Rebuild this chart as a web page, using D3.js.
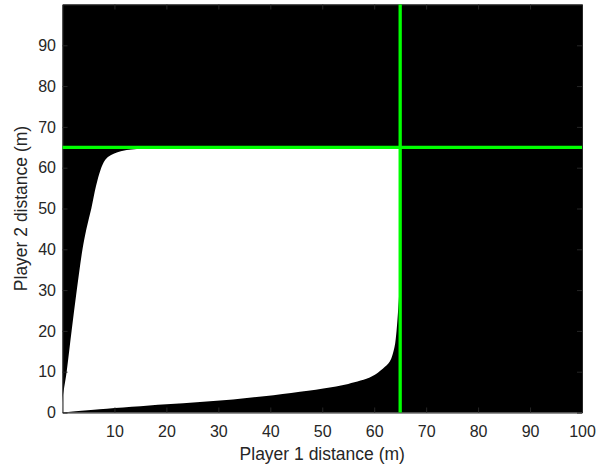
<!DOCTYPE html>
<html>
<head>
<meta charset="utf-8">
<script src="https://cdn.jsdelivr.net/npm/d3@7"></script>
<style>
  html, body { margin: 0; padding: 0; background: #fff; }
  svg { display: block; }
  text { font-family: "Liberation Sans", Arial, Helvetica, sans-serif; fill: #262626; }
</style>
</head>
<body>
<svg id="chart" width="610" height="470"></svg>
<script>
// Feasible region boundary: lower edge (Player 2 distance as Player 1 grows)
const lowerX = [0, 7.1, 20, 32.8, 44, 50.2, 55, 59.5, 61.7, 63, 63.9, 64.3, 64.6, 64.85, 65, 65];
const lowerY = [0, 0.78, 2.0, 3.2, 4.8, 5.9, 7.0, 8.8, 10.8, 12.5, 16, 20, 25, 30, 35, 65];
// Upper-left edge of the region
const upperX = [0, 0, 0.8, 1.75, 2.75, 3.85, 4.6, 5.55, 6.45, 7.3, 8.2, 9.35, 10.6, 11.9, 13.85, 15.8, 18, 65];
const upperY = [0, 3, 10, 20, 30, 40, 45, 50, 55.5, 59.4, 61.9, 63.1, 63.8, 64.2, 64.5, 64.7, 64.85, 65];
// Threshold distances for each player
const thresholdX = 65;
const thresholdY = 65;
// Tick labels
const xTicks = [10, 20, 30, 40, 50, 60, 70, 80, 90, 100];
const yTicks = [0, 10, 20, 30, 40, 50, 60, 70, 80, 90];

const svg = d3.select("#chart");
const plotLeft = 62.5, plotRight = 582, plotTop = 4.5, plotBottom = 412.5;

const x = d3.scaleLinear().domain([0, 100]).range([plotLeft, plotRight]);
const y = d3.scaleLinear().domain([0, 100]).range([plotBottom, plotTop]);

// Plot background
svg.append("rect")
  .attr("x", plotLeft).attr("y", plotTop)
  .attr("width", plotRight - plotLeft).attr("height", plotBottom - plotTop)
  .attr("fill", "#000");

// Region: smooth lower edge forward, then smooth upper edge back to the origin
const smooth = d3.line().x(d => x(d[0])).y(d => y(d[1])).curve(d3.curveCatmullRom.alpha(0.5));
const lowerPts = lowerX.map((v, i) => [v, lowerY[i]]);
const upperPts = upperX.map((v, i) => [v, upperY[i]]).reverse();
const regionPath = smooth(lowerPts) + smooth(upperPts).replace(/^M/, "L") + "Z";
svg.append("path")
  .attr("d", regionPath)
  .attr("fill", "#fff");

// Axes (box with inward ticks on all four sides)
const axisColor = "#262626";
const tickLen = 5;
const axes = svg.append("g");

const bottomAxis = d3.axisBottom(x).tickValues(xTicks).tickSizeInner(-tickLen).tickSizeOuter(0).tickPadding(13);
const topAxis = d3.axisTop(x).tickValues(xTicks).tickSizeInner(-tickLen).tickSizeOuter(0).tickFormat("");
const leftAxis = d3.axisLeft(y).tickValues(yTicks).tickSizeInner(-tickLen).tickSizeOuter(0).tickPadding(6.5);
const rightAxis = d3.axisRight(y).tickValues(yTicks).tickSizeInner(-tickLen).tickSizeOuter(0).tickFormat("");

const gb = axes.append("g").attr("transform", `translate(0,${plotBottom})`).call(bottomAxis);
const gt = axes.append("g").attr("transform", `translate(0,${plotTop})`).call(topAxis);
const gl = axes.append("g").attr("transform", `translate(${plotLeft},0)`).call(leftAxis);
const gr = axes.append("g").attr("transform", `translate(${plotRight},0)`).call(rightAxis);

[gb, gt, gl, gr].forEach(g => {
  g.selectAll(".domain").attr("stroke", axisColor).attr("stroke-width", 1);
  g.selectAll(".tick line").attr("stroke", axisColor).attr("stroke-width", 1);
  g.selectAll(".tick text")
    .attr("font-size", 16)
    .attr("font-family", "Liberation Sans, Arial, sans-serif")
    .attr("fill", axisColor);
});

// Threshold lines
svg.append("line")
  .attr("x1", x(thresholdX)).attr("x2", x(thresholdX))
  .attr("y1", y(0)).attr("y2", y(100))
  .attr("stroke", "#00ff00").attr("stroke-width", 3.3);
svg.append("line")
  .attr("x1", x(0)).attr("x2", x(100))
  .attr("y1", y(thresholdY)).attr("y2", y(thresholdY))
  .attr("stroke", "#00ff00").attr("stroke-width", 3.3);

// Axis titles
svg.append("text")
  .attr("x", (plotLeft + plotRight) / 2).attr("y", 459.5)
  .attr("text-anchor", "middle")
  .attr("font-size", 17.5)
  .text("Player 1 distance (m)");
svg.append("text")
  .attr("transform", `translate(26.5,${(plotTop + plotBottom) / 2}) rotate(-90)`)
  .attr("text-anchor", "middle")
  .attr("font-size", 17.5)
  .text("Player 2 distance (m)");
</script>
</body>
</html>
